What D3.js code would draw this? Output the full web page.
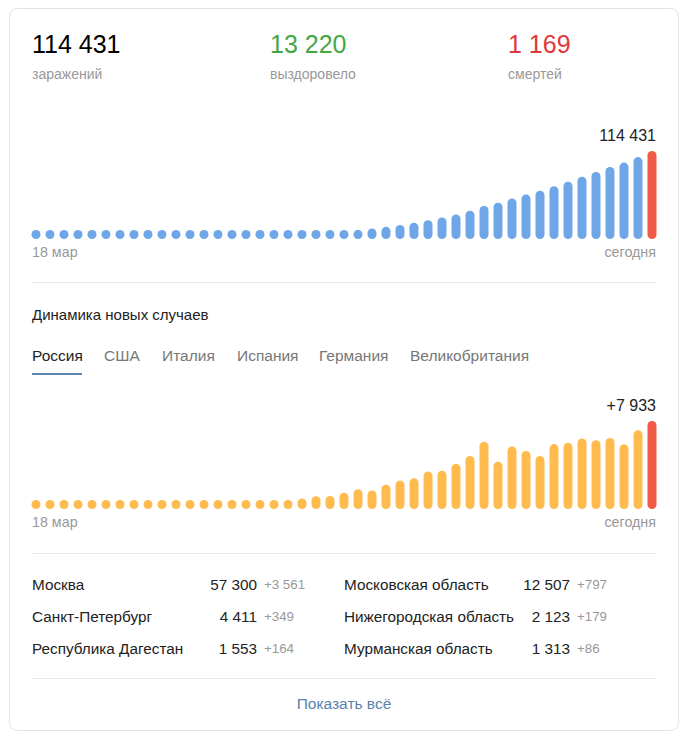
<!DOCTYPE html>
<html><head><meta charset="utf-8">
<script src="https://cdn.jsdelivr.net/npm/d3@7"></script>
<style>
html,body{margin:0;padding:0;background:#fff;}
svg{display:block;font-family:"Liberation Sans",Arial,sans-serif;}
</style></head>
<body><svg id="c" width="688" height="742"></svg>
<script>
const days = ["18 мар","19 мар","20 мар","21 мар","22 мар","23 мар","24 мар","25 мар","26 мар","27 мар","28 мар","29 мар","30 мар","31 мар",
"1 апр","2 апр","3 апр","4 апр","5 апр","6 апр","7 апр","8 апр","9 апр","10 апр","11 апр","12 апр","13 апр","14 апр","15 апр",
"16 апр","17 апр","18 апр","19 апр","20 апр","21 апр","22 апр","23 апр","24 апр","25 апр","26 апр","27 апр","28 апр","29 апр","30 апр","1 мая"];
const totalCases = [147,199,253,306,367,438,495,658,840,1036,1264,1534,1836,2337,2777,3548,4149,4731,5389,6343,7497,8672,10131,11917,13584,
15770,18328,21102,24490,27938,32008,36793,42853,47121,52763,57999,62773,68622,74588,80949,87147,93558,99399,106498,114431];
const newCases = [33,52,54,53,61,71,57,163,182,196,228,270,302,501,440,771,601,582,658,954,1154,1175,1459,1786,1667,2186,2558,2774,3388,
3448,4070,4785,6060,4268,5642,5236,4774,5849,5966,6361,6198,6411,5841,7099,7933];
const summaryValues = ["114 431","13 220","1 169"];
const summaryLabels = ["заражений","выздоровело","смертей"];
const summaryColors = ["#000000","#45a644","#e0373d"];
const tabs = ["Россия","США","Италия","Испания","Германия","Великобритания"];
const regionsLeft = ["Москва","Санкт-Петербург","Республика Дагестан"];
const casesLeft = ["57 300","4 411","1 553"];
const deltaLeft = ["+3 561","+349","+164"];
const regionsRight = ["Московская область","Нижегородская область","Мурманская область"];
const casesRight = ["12 507","2 123","1 313"];
const deltaRight = ["+797","+179","+86"];

const svg = d3.select("#c");
svg.append("rect").attr("x",9.5).attr("y",8.5).attr("width",669).attr("height",722)
  .attr("rx",8).attr("fill","#fff").attr("stroke","#e3e3e3");

const sx = [32,270,508];
summaryValues.forEach((v,i)=>{
  svg.append("text").attr("x",sx[i]).attr("y",53).attr("font-size",25).attr("fill",summaryColors[i]).text(v);
  svg.append("text").attr("x",sx[i]).attr("y",79).attr("font-size",14).attr("fill","#999").text(summaryLabels[i]);
});

const x = d3.scalePoint().domain(d3.range(days.length)).range([36,652]);
const bw = 9;
function barChart(data, bottom, color, label){
  const y = d3.scaleLinear().domain([0,d3.max(data)]).range([bottom,bottom-88]);
  const g = svg.append("g");
  g.selectAll("rect").data(data).join("rect")
    .attr("x",(d,i)=>x(i)-bw/2)
    .attr("width",bw)
    .attr("y",d=>Math.min(y(d),bottom-bw))
    .attr("height",d=>Math.max(bottom-y(d),bw))
    .attr("rx",bw/2)
    .attr("fill",(d,i)=>i===data.length-1?"#ef5b47":color);
  g.append("text").attr("x",656).attr("y",bottom-98).attr("text-anchor","end")
    .attr("font-size",16).attr("fill","#222").text(label);
  g.append("text").attr("x",32).attr("y",bottom+18).attr("font-size",14.3).attr("fill","#999").text(days[0]);
  g.append("text").attr("x",656).attr("y",bottom+18).attr("text-anchor","end").attr("font-size",14.3).attr("fill","#999").text("сегодня");
}
barChart(totalCases,239,"#6ea6e8","114 431");

function sep(y){ svg.append("line").attr("x1",32).attr("x2",656).attr("y1",y).attr("y2",y).attr("stroke","#e8e8e8"); }
sep(282.5);

svg.append("text").attr("x",32).attr("y",320).attr("font-size",15).attr("fill","#222").text("Динамика новых случаев");
const tabX = [32,104,162,237,319,410];
tabs.forEach((t,i)=>{
  svg.append("text").attr("x",tabX[i]).attr("y",361).attr("font-size",15.5).attr("fill",i===0?"#222":"#777").text(t);
});
svg.append("rect").attr("x",32).attr("y",373).attr("width",50).attr("height",2).attr("fill","#5b86b0");

barChart(newCases,509,"#ffbb4d","+7 933");
sep(553.5);

const rowY = [590,622,654];
rowY.forEach((ry,i)=>{
  svg.append("text").attr("x",32).attr("y",ry).attr("font-size",15.3).attr("fill","#222").text(regionsLeft[i]);
  svg.append("text").attr("x",257).attr("y",ry).attr("text-anchor","end").attr("font-size",15.3).attr("fill","#222").text(casesLeft[i]);
  svg.append("text").attr("x",264).attr("y",ry-1).attr("font-size",13.3).attr("fill","#999").text(deltaLeft[i]);
  svg.append("text").attr("x",344).attr("y",ry).attr("font-size",15.3).attr("fill","#222").text(regionsRight[i]);
  svg.append("text").attr("x",570).attr("y",ry).attr("text-anchor","end").attr("font-size",15.3).attr("fill","#222").text(casesRight[i]);
  svg.append("text").attr("x",577).attr("y",ry-1).attr("font-size",13.3).attr("fill","#999").text(deltaRight[i]);
});
sep(678.5);
svg.append("text").attr("x",344).attr("y",709).attr("text-anchor","middle").attr("font-size",15.5).attr("fill","#5a82ab").text("Показать всё");
</script></body></html>
